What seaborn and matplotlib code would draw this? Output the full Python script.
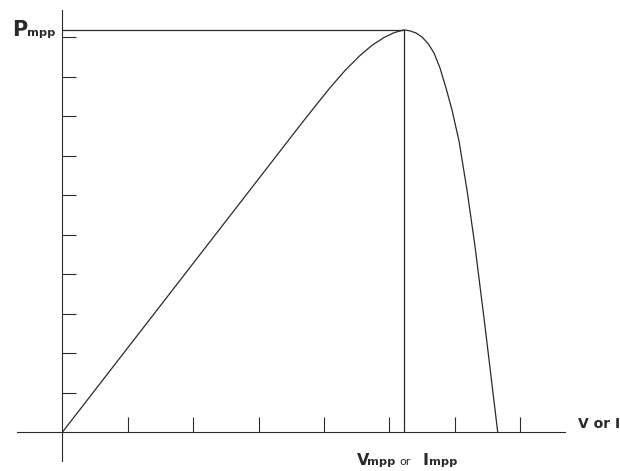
import matplotlib
matplotlib.use("Agg")
import matplotlib.pyplot as plt
import seaborn as sns
import pandas as pd

# ---- data ----
voltage = [0.0, 3.635, 3.864, 4.093, 4.323, 4.552, 4.736, 4.919, 5.072, 5.225,
           5.317, 5.408, 5.500, 5.592, 5.684, 5.775, 5.867, 5.959, 6.066, 6.188,
           6.310, 6.463, 6.658]
power = [0.0, 7.764, 8.244, 8.715, 9.153, 9.532, 9.790, 9.987, 10.109, 10.18,
         10.155, 10.101, 10.000, 9.836, 9.595, 9.216, 8.710, 8.153, 7.369, 6.129,
         4.713, 2.689, 0.0]
v_mpp = 5.225
p_mpp = 10.18
x_ticks = [1, 2, 3, 4, 5, 6, 7]
y_ticks = [1, 2, 3, 4, 5, 6, 7, 8, 9, 10]

df = pd.DataFrame({"V": voltage, "P": power})

sns.set_style("white")
plt.rcParams["font.family"] = ["DejaVu Sans"]

W, H = 620, 471
fig = plt.figure(figsize=(W / 100, H / 100), dpi=100)
ax = fig.add_axes([0, 0, 1, 1])

ink = "#2a2a2a"

sns.lineplot(data=df, x="V", y="P", ax=ax, color=ink, linewidth=0.9,
             estimator=None, sort=False)

# MPP guide lines
ax.hlines(p_mpp, 0, v_mpp, color=ink, linewidth=0.9)
ax.vlines(v_mpp, 0, p_mpp, color=ink, linewidth=0.9)

# axes geometry (origin at pixel 62.3, 432.3; 65.4 px per x unit, 39.53 px per y unit)
ox, oy, ux, uy = 62.3, 432.3, 65.4, 39.53
ax.set_xlim(-ox / ux, (W - ox) / ux)
ax.set_ylim(-(H - oy) / uy, oy / uy)

for s in ["top", "right"]:
    ax.spines[s].set_visible(False)
ax.spines["left"].set_position(("data", 0))
ax.spines["bottom"].set_position(("data", 0))
ax.spines["left"].set_bounds(-(461 - oy) / uy, (oy - 10) / uy)
ax.spines["bottom"].set_bounds((16.7 - ox) / ux, (565 - ox) / ux)
for s in ["left", "bottom"]:
    ax.spines[s].set_color(ink)
    ax.spines[s].set_linewidth(0.8)

ax.set_xticks(x_ticks)
ax.set_yticks(y_ticks)
ax.tick_params(axis="x", which="major", bottom=True, top=False, direction="in",
               length=10.8, width=0.8, color=ink, labelbottom=False)
ax.tick_params(axis="y", which="major", left=True, right=False, direction="in",
               length=10.0, width=0.8, color=ink, labelleft=False)
ax.set_xlabel("")
ax.set_ylabel("")
ax.patch.set_alpha(0)


def ftext(px, py, s, size, weight="bold"):
    fig.text(px / W, 1 - py / H, s, fontsize=size, fontweight=weight,
             color=ink, va="baseline", ha="left")


# P_mpp label
ftext(12.5, 36.5, "P", 15)
ftext(26.5, 36.5, "mpp", 8.2)

# axis label
ftext(577.5, 428.3, "V or I", 10.0)

# V_mpp or I_mpp label
ftext(356.5, 465, "V", 11.5)
ftext(367.5, 465, "mpp", 8.2)
ftext(399.5, 465, "or", 8.0, "normal")
ftext(422.5, 465, "I", 11.5)
ftext(428.5, 465, "mpp", 8.2)

fig.savefig("out.png", dpi=100)
